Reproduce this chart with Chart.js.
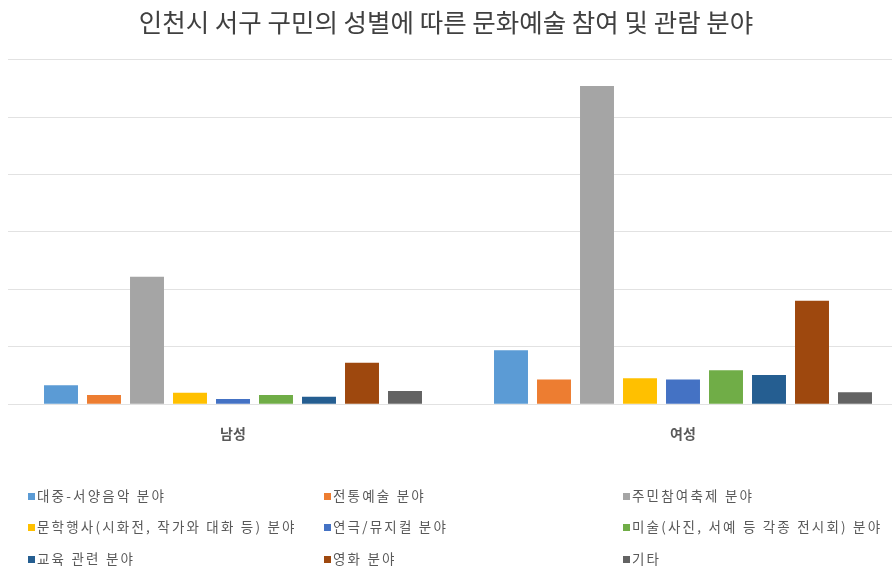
<!DOCTYPE html>
<html>
<head>
<meta charset="utf-8">
<script src="https://cdn.jsdelivr.net/npm/chart.js@4/dist/chart.umd.min.js"></script>
<style>
  html, body { margin: 0; padding: 0; background: #fff; }
  #wrap { position: relative; width: 892px; height: 571px; overflow: hidden; }
  #chart { position: absolute; left: 0; top: 0; }
  #legend { position: absolute; left: 0; top: 0; width: 892px; height: 571px; pointer-events: none;
            font-family: "Noto Sans CJK KR", "Noto Sans", sans-serif; font-size: 13.5px; color: #595959; letter-spacing: 2.2px; }
  .item { position: absolute; white-space: nowrap; line-height: 16px; }
  .item i { display: inline-block; width: 7px; height: 7px; margin-right: 2px; vertical-align: 1px; }
</style>
</head>
<body>
<div id="wrap">
  <canvas id="chart" width="908" height="571"></canvas>
  <div id="legend"></div>
</div>
<script>
var categories = ['남성', '여성'];
var seriesNames = [
    '대중-서양음악 분야',
    '전통예술 분야',
    '주민참여축제 분야',
    '문학행사(시화전, 작가와 대화 등) 분야',
    '연극/뮤지컬 분야',
    '미술(사진, 서예 등 각종 전시회) 분야',
    '교육 관련 분야',
    '영화 분야',
    '기타'
];
var maleValues = [3.3, 1.6, 22.2, 2.0, 0.9, 1.6, 1.3, 7.2, 2.3];
var femaleValues = [9.4, 4.3, 55.4, 4.5, 4.3, 5.9, 5.1, 18.0, 2.1];
var colors = ['#5B9BD5', '#ED7D31', '#A5A5A5', '#FFC000', '#4472C4', '#70AD47', '#255E91', '#9E480E', '#636363'];

var datasets = [];
for (var i = 0; i < seriesNames.length; i++) {
    datasets.push({
        label: seriesNames[i],
        data: [maleValues[i], femaleValues[i]],
        backgroundColor: colors[i],
        borderWidth: 0,
        categoryPercentage: 0.86,
        barPercentage: 0.79
    });
}

var font = '"Noto Sans CJK KR", "Noto Sans", sans-serif';

// canvas is wider than the page (plot runs off the right edge), so pull the title back to the page centre
var titleShift = {
    id: 'titleShift',
    afterLayout: function (chart) {
        chart.titleBlock.right -= 24;
    }
};

new Chart(document.getElementById('chart'), {
    type: 'bar',
    data: {
        labels: categories,
        datasets: datasets
    },
    plugins: [titleShift],
    options: {
        responsive: false,
        animation: false,
        layout: {
            padding: { left: 8, right: 0, top: 0, bottom: 116 }
        },
        plugins: {
            legend: { display: false },
            tooltip: { enabled: false },
            title: {
                display: true,
                text: '인천시 서구 구민의 성별에 따른 문화예술 참여 및 관람 분야',
                color: '#404040',
                font: { family: font, size: 25.5, weight: 'normal' },
                padding: { top: 7, bottom: 22 }
            }
        },
        scales: {
            x: {
                grid: { display: false },
                border: { display: false },
                ticks: {
                    color: '#595959',
                    padding: 13,
                    font: { family: font, size: 14, weight: 'bold' }
                }
            },
            y: {
                min: 0,
                max: 60,
                ticks: { display: false, stepSize: 10 },
                border: { display: false },
                grid: { color: '#e2e2e2', drawTicks: false }
            }
        }
    }
});

// legend laid out in three fixed columns like the original
var legend = document.getElementById('legend');
var colX = [28, 324, 623];
var rowY = [487, 518, 550];
for (var i = 0; i < seriesNames.length; i++) {
    var el = document.createElement('div');
    el.className = 'item';
    el.style.left = colX[i % 3] + 'px';
    el.style.top = rowY[Math.floor(i / 3)] + 'px';
    el.innerHTML = '<i style="background:' + colors[i] + '"></i>' + seriesNames[i];
    legend.appendChild(el);
}
</script>
</body>
</html>
